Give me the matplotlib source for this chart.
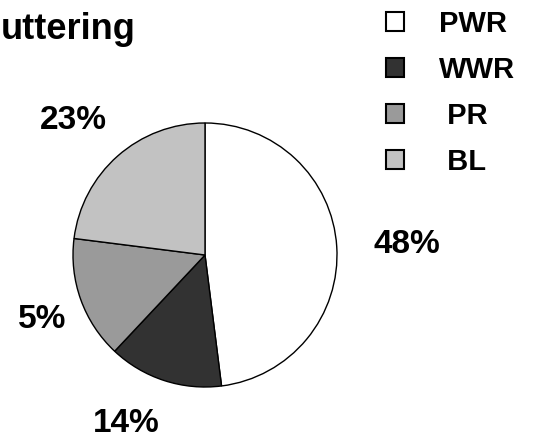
import matplotlib.pyplot as plt
from matplotlib.patches import Patch

# share of each group (slices) and the percent text printed beside them
groups = ["PWR", "WWR", "PR", "BL"]
shares = [48, 14, 15, 23]
pct_labels = ["48%", "14%", "5%", "23%"]
legend_labels = ["PWR", "WWR", " PR", " BL"]
colors = ["#ffffff", "#323232", "#9a9a9a", "#c2c2c2"]

W, H = 545, 440

plt.rcParams['font.family'] = ['Liberation Sans', 'DejaVu Sans']

fig = plt.figure(figsize=(W / 100, H / 100), dpi=100)
ax = fig.add_axes([0, 0, 1, 1])

#pie, clockwise from 12 o'clock
wedges, _ = ax.pie(shares, colors=colors, startangle=90, counterclock=False,
                   center=(205, H - 255), radius=132, frame=True,
                   wedgeprops=dict(edgecolor='black', linewidth=1.0))
ax.set_xlim(0, W)
ax.set_ylim(0, H)
ax.axis('off')

#percent labels around the pie
label_pos = [(407, 244), (126, 423), (42, 319), (73, 120)]
for txt, (x, y) in zip(pct_labels, label_pos):
    ax.text(x, H - y, txt, ha='center', va='center', fontsize=24,
            fontweight='bold', color='black')

#title (only the tail of the word fits)
ax.text(1, H - 39, "uttering", ha='left', va='baseline', fontsize=26,
        fontweight='bold', color='black')

handles = [Patch(facecolor=c, edgecolor='black', linewidth=1.5) for c in colors]
leg = ax.legend(handles, legend_labels, loc='upper left',
                bbox_to_anchor=(380 / W, 1 - 4 / H), frameon=False,
                prop=dict(size=21, weight='bold'),
                handlelength=0.62, handleheight=0.62, handletextpad=1.2,
                labelspacing=0.62, borderpad=0.2, borderaxespad=0)

fig.savefig("out.png", dpi=100)
